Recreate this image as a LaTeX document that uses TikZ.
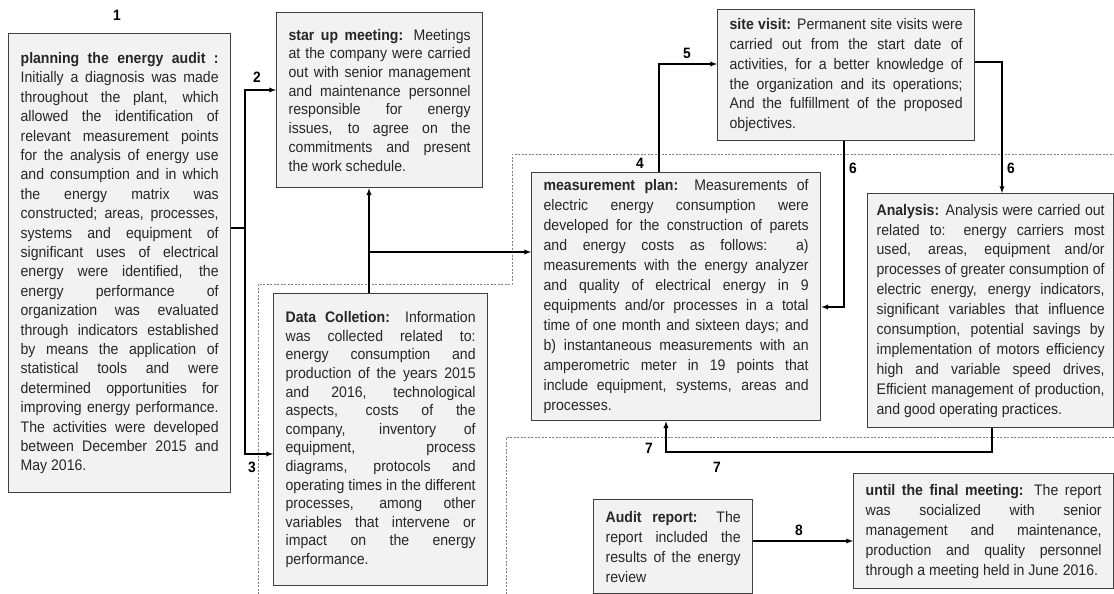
\documentclass[tikz,border=0pt]{standalone}
\usepackage{fontspec}
\setmainfont{Liberation Sans}[FakeStretch=0.92]
\usepackage{tikz}
\usetikzlibrary{positioning}
\tolerance=10000 \hbadness=10000 \hyphenpenalty=10000
\definecolor{boxfill}{HTML}{F2F2F2}
\definecolor{boxline}{HTML}{404040}
\tikzset{
  stage/.style={draw=boxline, fill=boxfill, line width=1.3pt, inner xsep=12pt, inner ysep=6pt,
    align=justify, anchor=north west, text=black!85, font=\fontsize{15.3}{#1}\selectfont},
  stage/.default=19.4,
  num/.style={font=\fontsize{15}{15}\selectfont\bfseries},
  link/.style={line width=1.3pt},
  flow/.style={link, ->, >=latex},
  zone/.style={gray, line width=0.8pt, dash pattern=on 2pt off 1.5pt},
}

\begin{document}
\begin{tikzpicture}[x=1pt, y=-1pt]
  \useasboundingbox (0,0) rectangle (1114,594);

  % dotted zones
  \draw[zone] (258,594) |- (512,284) |- (1114,154);
  \draw[zone] (506,594) |- (1114,437);

  % stages
  \node[stage=19.4, text width=198pt, minimum height=459pt] (plan) at (8,33) {%
    \textbf{planning the energy audit :}\linebreak
    Initially a diagnosis was made\linebreak
    throughout the plant, which\linebreak
    allowed the identification of\linebreak
    relevant measurement points\linebreak
    for the analysis of energy use\linebreak
    and consumption and in which\linebreak
    the energy matrix was\linebreak
    constructed; areas, processes,\linebreak
    systems and equipment of\linebreak
    significant uses of electrical\linebreak
    energy were identified, the\linebreak
    energy performance of\linebreak
    organization was evaluated\linebreak
    through indicators established\linebreak
    by means the application of\linebreak
    statistical tools and were\linebreak
    determined opportunities for\linebreak
    improving energy performance.\linebreak
    The activities were developed\linebreak
    between December 2015 and\linebreak
    May 2016.};
  \node[stage=18.7, text width=182pt, minimum height=175pt] (meet) at (276,12) {%
    \textbf{star up meeting:} Meetings\linebreak
    at the company were carried\linebreak
    out with senior management\linebreak
    and maintenance personnel\linebreak
    responsible for energy\linebreak
    issues, to agree on the\linebreak
    commitments and present\linebreak
    the work schedule.};
  \node[stage=18.6, text width=190pt, minimum height=292pt] (data) at (273,293) {%
    \textbf{Data Colletion:} Information\linebreak
    was collected related to:\linebreak
    energy consumption and\linebreak
    production of the years 2015\linebreak
    and 2016, technological\linebreak
    aspects, costs of the\linebreak
    company, inventory of\linebreak
    equipment, process\linebreak
    diagrams, protocols and\linebreak
    operating times in the different\linebreak
    processes, among other\linebreak
    variables that intervene or\linebreak
    impact on the energy\linebreak
    performance.};
  \node[stage=20, text width=265pt, minimum height=248pt] (mplan) at (531,172) {%
    \textbf{measurement plan:} Measurements of\linebreak
    electric energy consumption were\linebreak
    developed for the construction of parets\linebreak
    and energy costs as follows: a)\linebreak
    measurements with the energy analyzer\linebreak
    and quality of electrical energy in 9\linebreak
    equipments and/or processes in a total\linebreak
    time of one month and sixteen days; and\linebreak
    b) instantaneous measurements with an\linebreak
    amperometric meter in 19 points that\linebreak
    include equipment, systems, areas and\linebreak
    processes.};
  \node[stage=19.8, text width=233pt, minimum height=131pt] (site) at (717,9) {%
    \textbf{site visit:} Permanent site visits were\linebreak
    carried out from the start date of\linebreak
    activities, for a better knowledge of\linebreak
    the organization and its operations;\linebreak
    And the fulfillment of the proposed\linebreak
    objectives.};
  \node[stage=19.9, inner xsep=9pt, text width=228pt, minimum height=234pt] (ana) at (867,193) {%
    \textbf{Analysis:} Analysis were carried out\linebreak
    related to: energy carriers most\linebreak
    used, areas, equipment and/or\linebreak
    processes of greater consumption of\linebreak
    electric energy, energy indicators,\linebreak
    significant variables that influence\linebreak
    consumption, potential savings by\linebreak
    implementation of motors efficiency\linebreak
    high and variable speed drives,\linebreak
    Efficient management of production,\linebreak
    and good operating practices.};
  \node[stage=20, text width=135pt, minimum height=94pt] (audit) at (593,499) {%
    \textbf{Audit report:} The\linebreak
    report included the\linebreak
    results of the energy\linebreak
    review};
  \node[stage=20, text width=236pt, minimum height=115pt] (final) at (853,473) {%
    \textbf{until the final meeting:} The report\linebreak
    was socialized with senior\linebreak
    management and maintenance,\linebreak
    production and quality personnel\linebreak
    through a meeting held in June 2016.};

  % bends
  \coordinate (j1) at (245,228);
  \coordinate (b2) at (245,90);
  \coordinate (b3) at (245,454);
  \coordinate (j4) at (369,252);
  \coordinate (b5) at (659,64);
  \coordinate (b6) at (844,307);
  \coordinate (b6r) at (1002,62);
  \coordinate (b7r) at (992,452);
  \coordinate (b7l) at (666,452);
  \coordinate (b8) at (800,541);

  % connectors
  \draw[link] (plan.east |- j1) -- (j1);
  \draw[flow] (j1) -- (b2) -- (b2 -| meet.west);
  \draw[flow] (j1) -- (b3) -- (b3 -| data.west);
  \draw[flow] (data.north -| j4) -- (meet.south -| j4);
  \draw[flow] (j4) -- (j4 -| mplan.west);
  \draw[flow] (mplan.north -| b5) -- (b5) -- (b5 -| site.west);
  \draw[flow] (site.south -| b6) -- (b6) -- (b6 -| mplan.east);
  \draw[flow] (site.east |- b6r) -- (b6r) -- (b6r |- ana.north);
  \draw[flow] (ana.south -| b7r) -- (b7r) -- (b7l) -- (b7l |- mplan.south);
  \draw[flow] (audit.east |- b8) -- (final.west |- b8);

  % step numbers
  \node[num] (n1) at (117,15) {1};
  \node[num] (n2) at (257,77) {2};
  \node[num] (n3) at (252,467) {3};
  \node[num] (n4) at (640,163) {4};
  \node[num] (n5) at (687,53) {5};
  \node[num] (n6) at (853,168) {6};
  \node[num] (n6b) at (1011,168) {6};
  \node[num] (n7) at (649,448) {7};
  \node[num] (n7b) at (717,467) {7};
  \node[num] (n8) at (799,530) {8};
\end{tikzpicture}
\end{document}
